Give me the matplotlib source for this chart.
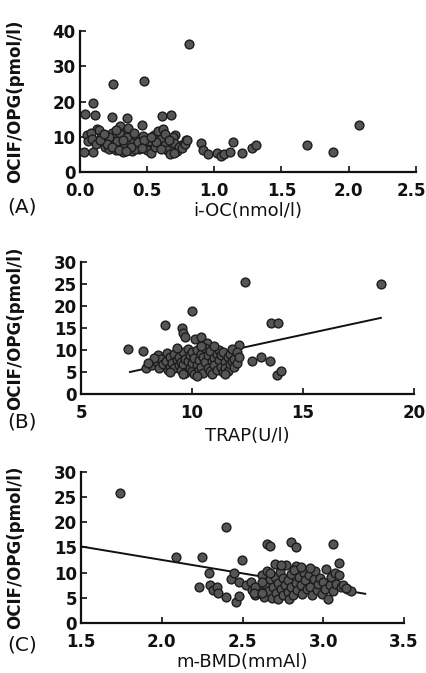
import matplotlib

matplotlib.use("Agg")
import matplotlib.pyplot as plt
from matplotlib.transforms import ScaledTranslation

plt.rcParams["font.family"] = ["DejaVu Sans"]

INK = "#111111"
DOT_FACE = "#555555"
DOT_EDGE = "#1c1c1c"

# ---- panel A: i-OC vs OCIF/OPG ----
a_x = [
    0.81, 0.25, 0.48, 2.08, 1.88, 1.69,
    0.10, 0.04, 0.11, 0.24, 0.35, 0.61, 0.68, 0.46, 0.30, 0.13, 0.03, 0.10,
    0.90, 0.915, 0.95, 1.02, 1.05, 1.07, 1.12, 1.14, 1.21, 1.28, 1.31,
    0.71, 0.79, 0.75, 0.71,
    0.05, 0.06, 0.08, 0.09, 0.12, 0.14, 0.16, 0.18, 0.19, 0.20,
    0.21, 0.22, 0.23, 0.24, 0.25, 0.26, 0.27, 0.28, 0.29, 0.30,
    0.31, 0.32, 0.33, 0.34, 0.35, 0.36, 0.37, 0.38, 0.39, 0.40,
    0.41, 0.42, 0.44, 0.45, 0.47, 0.49, 0.50, 0.52, 0.53, 0.55,
    0.56, 0.58, 0.60, 0.62, 0.63, 0.65, 0.67, 0.69, 0.70, 0.72,
    0.74, 0.76, 0.78, 0.80,
    0.22, 0.26, 0.30, 0.33, 0.37, 0.41, 0.28, 0.35, 0.20, 0.24,
    0.32, 0.38, 0.43, 0.48, 0.57, 0.63, 0.66, 0.70,
    0.15, 0.18, 0.27, 0.36, 0.29, 0.34, 0.40, 0.46, 0.53, 0.60,
]
a_y = [
    36.3, 25.0, 25.7, 13.2, 5.8, 7.7,
    19.5, 16.5, 16.2, 15.5, 15.3, 16.0, 16.2, 13.3, 13.0, 12.3, 5.6, 5.6,
    8.1, 6.2, 5.2, 5.3, 4.6, 5.0, 5.6, 8.6, 5.3, 6.8, 7.6,
    10.5, 9.1, 7.7, 5.8,
    10.5, 8.8, 11.2, 9.5, 8.0, 12.0, 9.8, 8.5, 7.0, 10.2,
    9.0, 6.5, 8.2, 11.0, 7.5, 9.2, 6.2, 10.5, 8.0, 7.0,
    9.5, 5.8, 8.6, 11.5, 6.8, 9.0, 7.8, 10.0, 6.0, 8.4,
    7.2, 9.6, 6.5, 8.0, 10.2, 7.5, 6.2, 8.8, 5.5, 10.5,
    7.0, 11.5, 9.5, 12.2, 7.8, 6.2, 5.2, 10.0, 8.2, 6.0,
    7.2, 6.8, 8.0, 9.0,
    9.8, 7.0, 10.8, 7.2, 8.6, 6.6, 8.8, 9.8, 8.0, 7.2,
    9.0, 7.0, 8.5, 9.0, 8.5, 10.8, 9.0, 5.5,
    9.0, 10.8, 11.8, 12.5, 6.2, 6.0, 11.2, 6.8, 9.8, 6.5,
]

# ---- panel B: TRAP vs OCIF/OPG ----
b_x = [
    7.13, 7.78, 8.78, 9.54, 9.60, 9.68, 9.98, 12.39, 18.51, 13.56, 13.87,
    12.70, 13.10, 13.50, 13.80, 14.00, 12.10, 10.14, 10.40, 10.66, 8.48, 8.86,
    7.90, 8.20, 8.40, 8.50, 8.60, 8.70, 8.80, 8.90, 9.00, 9.00,
    9.10, 9.20, 9.20, 9.30, 9.40, 9.40, 9.50, 9.50, 9.60, 9.60,
    9.70, 9.70, 9.80, 9.80, 9.90, 9.90, 10.00, 10.00, 10.00, 10.10,
    10.10, 10.20, 10.20, 10.30, 10.30, 10.40, 10.40, 10.50, 10.50, 10.60,
    10.60, 10.70, 10.70, 10.80, 10.80, 10.90, 10.90, 11.00, 11.00, 11.10,
    11.10, 11.20, 11.20, 11.30, 11.30, 11.40, 11.40, 11.50, 11.50, 11.60,
    11.60, 11.70, 11.70, 11.80, 11.80, 11.90, 11.90, 12.00, 12.00, 12.10,
    8.30, 9.30, 10.40, 11.00, 9.60, 10.20, 11.50, 8.00, 9.00,
]
b_y = [
    10.3, 9.7, 15.7, 14.9, 13.8, 13.0, 18.8, 25.5, 24.9, 16.1, 16.1,
    7.4, 8.4, 7.5, 4.3, 5.2, 11.1, 12.4, 13.0, 11.7, 8.9, 9.3,
    5.9, 6.5, 7.2, 5.8, 8.0, 6.8, 7.5, 5.5, 8.5, 6.2,
    7.0, 9.0, 5.8, 7.8, 6.5, 8.4, 7.2, 5.5, 9.5, 6.8,
    8.0, 4.8, 7.5, 10.2, 6.0, 8.8, 5.2, 7.0, 9.5, 4.5,
    8.2, 6.5, 10.0, 7.8, 5.5, 9.0, 6.2, 8.5, 4.8, 7.2,
    10.5, 6.0, 8.8, 5.2, 9.8, 7.5, 4.6, 8.2, 6.5, 9.2,
    5.5, 7.8, 10.0, 6.2, 8.8, 5.0, 9.5, 7.2, 6.0, 8.5,
    5.2, 9.0, 6.8, 7.5, 10.2, 8.0, 6.2, 9.5, 7.0, 8.5,
    8.2, 10.5, 11.0, 10.8, 4.6, 4.0, 4.5, 7.0, 4.9,
]
b_fit_x = [7.2, 18.5]
b_fit_y = [5.0, 17.3]

# ---- panel C: m-BMD vs OCIF/OPG ----
c_x = [
    1.74, 2.09, 2.25, 2.40, 2.495, 2.29, 2.23, 2.40, 2.46, 2.48,
    2.65, 2.67, 2.80, 2.83, 3.06, 3.10, 2.83, 2.77, 3.02,
    2.30, 2.32, 2.34, 2.35, 2.43, 2.45, 2.48, 2.52, 2.55, 2.56,
    2.58, 2.60, 2.60, 2.62, 2.63, 2.64, 2.65, 2.66, 2.67, 2.68,
    2.69, 2.70, 2.70, 2.71, 2.72, 2.72, 2.73, 2.74, 2.75, 2.75,
    2.76, 2.78, 2.78, 2.79, 2.80, 2.80, 2.81, 2.82, 2.83, 2.84,
    2.85, 2.86, 2.87, 2.88, 2.89, 2.90, 2.91, 2.92, 2.93, 2.94,
    2.95, 2.96, 2.97, 2.98, 2.99, 3.00, 3.01, 3.03, 3.04, 3.05,
    3.06, 3.07, 3.08, 3.10, 3.11, 3.12, 3.15, 3.17, 3.14,
    2.67, 2.74, 2.86, 2.92, 2.58, 2.62, 2.57, 2.62,
]
c_y = [
    25.8, 13.2, 13.2, 19.1, 12.6, 9.9, 7.1, 5.2, 4.2, 5.3,
    15.7, 15.2, 16.0, 15.1, 15.7, 12.0, 11.4, 11.6, 10.8,
    7.5, 6.5, 7.2, 6.0, 8.8, 10.0, 8.2, 7.5, 8.2, 6.5,
    5.5, 7.0, 6.0, 9.5, 5.2, 7.8, 10.3, 6.3, 8.8, 5.0,
    7.2, 11.7, 9.2, 6.0, 8.0, 4.8, 10.2, 6.8, 9.0, 5.5,
    7.5, 8.5, 6.2, 4.7, 9.8, 7.2, 5.6, 10.5, 8.0, 6.5,
    9.2, 7.6, 5.8, 10.0, 8.5, 6.8, 9.5, 7.2, 5.5, 8.8,
    10.3, 6.5, 7.8, 9.0, 5.8, 8.2, 6.8, 4.8, 7.5, 9.2,
    6.3, 10.0, 7.8, 9.5, 7.2, 7.5, 6.8, 6.3, 7.0,
    10.0, 11.6, 11.2, 11.0, 7.2, 8.2, 6.0, 6.0,
]
c_fit_x = [1.5, 3.26]
c_fit_y = [15.2, 5.8]

y_label = "OCIF/OPG(pmol/l)"

# rect in figure fractions; label_dy = x-label centre below the axis, in px
PANELS = [
    dict(x=a_x, y=a_y, fit=None, xlim=(0.0, 2.5), xticks=[0.0, 0.5, 1.0, 1.5, 2.0, 2.5],
         xfmt="{:.1f}", ylim=(0, 40), yticks=[0, 10, 20, 30, 40],
         xlabel="i-OC(nmol/l)", tag="(A)", tag_y=207,
         rect=(0.187, 0.7444, 0.787, 0.2095), label_dy=39),
    dict(x=b_x, y=b_y, fit=(b_fit_x, b_fit_y), xlim=(5, 20), xticks=[5, 10, 15, 20],
         xfmt="{:.0f}", ylim=(0, 30), yticks=[0, 5, 10, 15, 20, 25, 30],
         xlabel="TRAP(U/l)", tag="(B)", tag_y=422,
         rect=(0.190, 0.4146, 0.780, 0.1961), label_dy=42),
    dict(x=c_x, y=c_y, fit=(c_fit_x, c_fit_y), xlim=(1.5, 3.5),
         xticks=[1.5, 2.0, 2.5, 3.0, 3.5], xfmt="{:.1f}",
         ylim=(0, 30), yticks=[0, 5, 10, 15, 20, 25, 30],
         xlabel="m-BMD(mmAl)", tag="(C)", tag_y=645,
         rect=(0.190, 0.0743, 0.756, 0.2244), label_dy=39),
]

W, H = 427, 673
fig = plt.figure(figsize=(W / 100, H / 100), dpi=100, facecolor="white")

for p in PANELS:
    ax = fig.add_axes(p["rect"])
    ax.scatter(p["x"], p["y"], s=40, facecolor=DOT_FACE, edgecolor=DOT_EDGE,
               linewidths=1.0, zorder=3, clip_on=False)
    if p["fit"] is not None:
        ax.plot(p["fit"][0], p["fit"][1], color=INK, linewidth=1.4, zorder=2)
    ax.set_xlim(*p["xlim"])
    ax.set_ylim(*p["ylim"])
    ax.set_xticks(p["xticks"])
    ax.set_xticklabels([p["xfmt"].format(t) for t in p["xticks"]])
    ax.set_yticks(p["yticks"])
    for spine in ("top", "right"):
        ax.spines[spine].set_visible(False)
    for spine in ("left", "bottom"):
        ax.spines[spine].set_linewidth(1.6)
        ax.spines[spine].set_color(INK)
    ax.tick_params(direction="in", length=4, width=1.2, colors=INK, labelsize=12)
    ax.tick_params(axis="x", pad=7)
    ax.tick_params(axis="y", pad=3)
    for lab in ax.get_xticklabels() + ax.get_yticklabels():
        lab.set_fontweight("bold")

    # keep the right-most "x.x" tick label inside the canvas
    right_px = (p["rect"][0] + p["rect"][2]) * W
    if right_px > 415:
        last = ax.get_xticklabels()[-1]
        shift = (right_px - 411) / 100
        last.set_transform(last.get_transform()
                           + ScaledTranslation(-shift, 0, fig.dpi_scale_trans))

    ax_h_px = p["rect"][3] * H
    ax.set_ylabel(y_label, fontsize=12, fontweight="bold", color=INK)
    ax.yaxis.set_label_coords(-(p["rect"][0] * W - 24) / (p["rect"][2] * W), 0.5)
    ax.set_xlabel(p["xlabel"], fontsize=13, color=INK, va="center")
    ax.xaxis.set_label_coords(0.5, -p["label_dy"] / ax_h_px)
    fig.text(7 / W, 1 - p["tag_y"] / H, p["tag"], fontsize=14.5, color=INK,
             ha="left", va="center")

fig.savefig("out.png", dpi=100, facecolor="white")
